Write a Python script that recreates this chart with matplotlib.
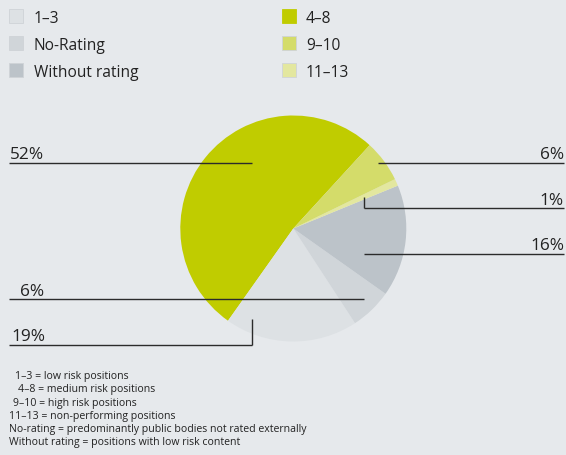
import matplotlib
matplotlib.use("Agg")
import matplotlib.pyplot as plt
from matplotlib.patches import Rectangle

# Rating class shares of the portfolio (percent), in drawing order
categories = ["4–8", "1–3", "No-Rating", "Without rating", "11–13", "9–10"]
shares = [52, 19, 6, 16, 1, 6]
colors = ["#c0cc00", "#dde1e4", "#d0d5d9", "#bcc3c9", "#e3e79f", "#d4dc6a"]

legend_left = ["1–3", "No-Rating", "Without rating"]
legend_right = ["4–8", "9–10", "11–13"]

footnotes = [
    "1–3 = low risk positions",
    "4–8 = medium risk positions",
    "9–10 = high risk positions",
    "11–13 = non-performing positions",
    "No-rating = predominantly public bodies not rated externally",
    "Without rating = positions with low risk content",
]

BG = "#e6e9ec"
LINE = "#2b2b2b"
W, H = 566, 456

plt.rcParams["font.family"] = ["Open Sans", "DejaVu Sans"]

fig = plt.figure(figsize=(W / 100, H / 100), dpi=100, facecolor=BG)
ax = fig.add_axes([0, 0, 1, 1])
ax.set_facecolor(BG)


def Y(py):
    """Convert a top-down pixel row into axes y."""
    return H - py


cx, cy, r = 293.3, Y(229.5), 113
ax.pie(shares, colors=colors, startangle=47.5, counterclock=True,
       center=(cx, cy), radius=r, frame=True,
       wedgeprops=dict(linewidth=0, antialiased=True))
ax.set_xlim(0, W)
ax.set_ylim(0, H)
ax.set_aspect("equal")
ax.axis("off")

col = dict(zip(categories, colors))
share = dict(zip(categories, shares))

# Legend: two columns of swatches
rows_y = [17.3, 44.3, 71]
for name, yc in zip(legend_left, rows_y):
    ax.add_patch(Rectangle((9, Y(yc) - 7), 14, 14, facecolor=col[name],
                           edgecolor="#cfd3d7", linewidth=0.6))
    ax.text(33.5, Y(yc), name, fontsize=11.2, color="#222222",
            va="center_baseline", ha="left")
for name, yc in zip(legend_right, rows_y):
    ax.add_patch(Rectangle((282, Y(yc) - 7), 14, 14, facecolor=col[name],
                           edgecolor="#cfd3d7" if name != "4–8" else col[name],
                           linewidth=0.6))
    ax.text(306, Y(yc), name, fontsize=11.2, color="#222222",
            va="center_baseline", ha="left")


# Percentage call-outs with leader lines
def callout(name, line_y, x0, x1, text_x, ha, tick=None):
    ax.plot([x0, x1], [Y(line_y), Y(line_y)], color=LINE, lw=1.0,
            solid_capstyle="butt")
    if tick is not None:
        tx, ty = tick
        ax.plot([tx, tx], [Y(ty), Y(line_y)], color=LINE, lw=1.0,
                solid_capstyle="butt")
    ax.text(text_x, Y(line_y - 4.5), f"{share[name]}%", fontsize=12.4,
            color="#222222", ha=ha, va="baseline")


callout("4–8", 163.7, 9, 252, 10, "left")
callout("No-Rating", 300, 9, 364, 20, "left")
callout("1–3", 345.7, 9, 251.7, 11, "left", tick=(251.7, 320))
callout("9–10", 163.7, 378, 564, 564, "right")
callout("11–13", 209.3, 364, 564, 564, "right", tick=(364.3, 198))
callout("Without rating", 255, 364, 564, 564, "right")

# Footnotes
foot_x = [15, 18, 12.7, 9.3, 9, 9]
for i, (txt, fx) in enumerate(zip(footnotes, foot_x)):
    ax.text(fx, Y(375 + i * 13.3), txt, fontsize=7.55, color="#222222",
            ha="left", va="center_baseline")

fig.savefig("out.png", dpi=100, facecolor=BG)
